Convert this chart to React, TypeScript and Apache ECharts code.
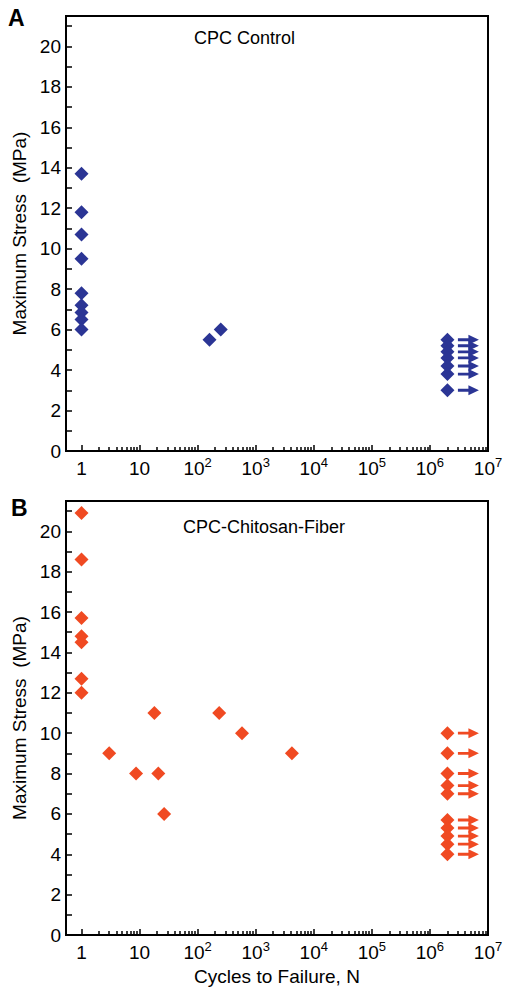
import React, { useEffect, useRef } from "react";
import * as echarts from "echarts";

// ---- data ----
const xLabelExponents = [0, 1, 2, 3, 4, 5, 6, 7];
const minorMultipliers = [2, 3, 4, 5, 6, 7, 8, 9];
const yLabelValues = [0, 2, 4, 6, 8, 10, 12, 14, 16, 18, 20];
const yTickValues = [0, 1, 2, 3, 4, 5, 6, 7, 8, 9, 10, 11, 12, 13, 14, 15, 16, 17, 18, 19, 20, 21];

const controlFailN = [1, 1, 1, 1, 1, 1, 1, 1, 1, 160, 250];
const controlFailStress = [13.7, 11.8, 10.7, 9.5, 7.8, 7.2, 6.85, 6.5, 6.0, 5.5, 6.0];
const controlRunoutN = [2e6, 2e6, 2e6, 2e6, 2e6, 2e6, 2e6];
const controlRunoutStress = [5.5, 5.2, 4.9, 4.6, 4.2, 3.8, 3.0];

const fiberFailN = [1, 1, 1, 1, 1, 1, 1, 3, 8.7, 18, 21, 26.5, 235, 580, 4200];
const fiberFailStress = [20.9, 18.6, 15.7, 14.8, 14.5, 12.7, 12.0, 9, 8, 11, 8, 6, 11, 10, 9];
const fiberRunoutN = [2e6, 2e6, 2e6, 2e6, 2e6, 2e6, 2e6, 2e6, 2e6, 2e6];
const fiberRunoutStress = [10, 9, 8, 7.4, 7.0, 5.7, 5.3, 4.9, 4.5, 4.0];

const panelLabels = ["A", "B"];
const panelTitles = ["CPC Control", "CPC-Chitosan-Fiber"];
const yTitle = "Maximum Stress  (MPa)";
const xTitle = "Cycles to Failure, N";

const BLUE = "#2B3595";
const ORANGE = "#F04A22";
const FONT = "'Liberation Sans', Arial, Helvetica, sans-serif";

const X_MIN_EXP = -0.267;
const X_MAX_EXP = 7;
const Y_MAX = 21.5;

const ARROW = "path://M0,3.2L10,3.2L10,0L20,4.5L10,9L10,5.8L0,5.8Z";

function pts(ns: number[], ss: number[]) {
  return ns.map((n, i) => [Math.log10(n), ss[i]]);
}

const majorTicks = xLabelExponents;
const minorTicks: number[] = [];
for (let k = 0; k < 7; k++) {
  for (const m of minorMultipliers) minorTicks.push(Math.log10(m * Math.pow(10, k)));
}

function xLabelFormatter(v: number) {
  const e = Math.round(v);
  if (e === 0) return "{n|1}";
  if (e === 1) return "{n|10}";
  return "{n|10}{s|" + e + "}";
}

export default function App() {
  const ref = useRef<HTMLDivElement>(null);
  useEffect(() => {
    if (!ref.current) return;
    const chart = echarts.init(ref.current, undefined, { renderer: "svg" });
    const grids = [
      { left: 66, top: 16, width: 422, height: 435 },
      { left: 66, top: 501, width: 422, height: 434 },
    ];
    const xAxes: any[] = [];
    const yAxes: any[] = [];
    grids.forEach((_, g) => {
      xAxes.push({
        type: "value",
        gridIndex: g,
        min: X_MIN_EXP,
        max: X_MAX_EXP,
        position: "bottom",
        axisLine: { show: true, onZero: false, lineStyle: { color: "#000", width: 2 } },
        axisTick: {
          show: true,
          inside: true,
          length: 6,
          customValues: majorTicks,
          lineStyle: { color: "#000", width: 1.5 },
        },
        axisLabel: {
          customValues: xLabelExponents,
          formatter: xLabelFormatter,
          margin: 5,
          rich: {
            n: { fontSize: 19, fontFamily: FONT, color: "#000", lineHeight: 22, verticalAlign: "bottom" },
            s: { fontSize: 13, fontFamily: FONT, color: "#000", lineHeight: 13, verticalAlign: "top" },
          },
        },
        splitLine: { show: false },
        name: g === 1 ? xTitle : "",
        nameLocation: "middle",
        nameGap: 32,
        nameTextStyle: { fontSize: 19, fontFamily: FONT, color: "#000" },
      });
      xAxes.push({
        type: "value",
        gridIndex: g,
        min: X_MIN_EXP,
        max: X_MAX_EXP,
        position: "bottom",
        axisLine: { show: false, onZero: false },
        axisTick: {
          show: true,
          inside: true,
          length: 4,
          customValues: minorTicks,
          lineStyle: { color: "#000", width: 1.5 },
        },
        axisLabel: { show: false },
        splitLine: { show: false },
      });
      yAxes.push({
        type: "value",
        gridIndex: g,
        min: 0,
        max: Y_MAX,
        axisLine: { show: true, onZero: false, lineStyle: { color: "#000", width: 2 } },
        axisTick: {
          show: true,
          inside: true,
          length: 6,
          customValues: yTickValues,
          lineStyle: { color: "#000", width: 1.5 },
        },
        axisLabel: {
          customValues: yLabelValues,
          fontSize: 19,
          fontFamily: FONT,
          color: "#000",
          margin: 5,
        },
        splitLine: { show: false },
        name: yTitle,
        nameLocation: "middle",
        nameGap: 34,
        nameTextStyle: { fontSize: 19, fontFamily: FONT, color: "#000" },
      });
    });

    const sets = [
      { failN: controlFailN, failS: controlFailStress, runN: controlRunoutN, runS: controlRunoutStress, color: BLUE },
      { failN: fiberFailN, failS: fiberFailStress, runN: fiberRunoutN, runS: fiberRunoutStress, color: ORANGE },
    ];
    const series: any[] = [];
    sets.forEach((s, g) => {
      series.push({
        type: "scatter",
        xAxisIndex: g * 2,
        yAxisIndex: g,
        symbol: "diamond",
        symbolSize: [14, 14],
        itemStyle: { color: s.color, opacity: 1 },
        data: pts(s.failN, s.failS).concat(pts(s.runN, s.runS)),
        z: 3,
      });
      series.push({
        type: "scatter",
        xAxisIndex: g * 2,
        yAxisIndex: g,
        symbol: ARROW,
        symbolSize: [21, 10],
        symbolOffset: [21, 0],
        itemStyle: { color: s.color, opacity: 1 },
        data: pts(s.runN, s.runS),
        z: 3,
      });
    });

    const graphic: any[] = [
      { type: "text", left: 8, top: 6, style: { text: panelLabels[0], font: "bold 23px " + FONT, fill: "#000" } },
      { type: "text", left: 11, top: 496, style: { text: panelLabels[1], font: "bold 23px " + FONT, fill: "#000" } },
      { type: "text", x: 194, y: 38, style: { text: panelTitles[0], font: "18px " + FONT, fill: "#000", textVerticalAlign: "middle" } },
      { type: "text", x: 183, y: 527, style: { text: panelTitles[1], font: "18px " + FONT, fill: "#000", textVerticalAlign: "middle" } },
    ];

    chart.setOption({
      animation: false,
      backgroundColor: "#fff",
      grid: grids.map((gr) => ({ ...gr, show: true, borderColor: "#000", borderWidth: 2, backgroundColor: "transparent" })),
      xAxis: xAxes,
      yAxis: yAxes,
      series,
      graphic,
    });
    return () => chart.dispose();
  }, []);
  return (
    <div
      ref={ref}
      style={{ position: "absolute", left: 0, top: 0, width: 511, height: 997 }}
    />
  );
}
